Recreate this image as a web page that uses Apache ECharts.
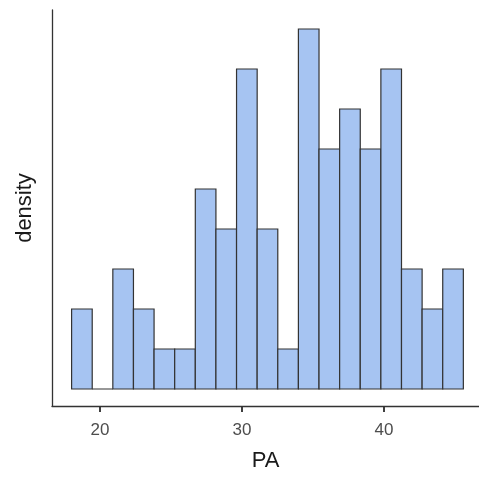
<!DOCTYPE html>
<html>
<head>
<meta charset="utf-8">
<script src="https://cdn.jsdelivr.net/npm/echarts@6/dist/echarts.min.js"></script>
<style>
  html, body { margin: 0; padding: 0; background: #fff; }
  #chart { width: 479px; height: 480px; }
</style>
</head>
<body>
<div id="chart"></div>
<script>
// histogram of PA: 19 bins, first edge and width
var binStart = 18.0;
var binWidth = 1.452;
var counts = [2, 0, 3, 2, 1, 1, 5, 4, 8, 4, 1, 9, 6, 7, 6, 8, 3, 2, 3];
var xTicks = [20, 30, 40];

var xMin = 16.62, xMax = 46.69;
var yMin = -0.425, yMax = 9.475;

var bins = counts.map(function (c, i) {
    var x0 = binStart + i * binWidth;
    return [x0, x0 + binWidth, c];
});

var chart = echarts.init(document.getElementById('chart'));

chart.setOption({
    animation: false,
    grid: { left: 52, right: 0, top: 10, bottom: 74 },
    xAxis: {
        type: 'value',
        min: xMin,
        max: xMax,
        name: 'PA',
        nameLocation: 'middle',
        nameGap: 44,
        nameTextStyle: { fontSize: 22, color: '#1a1a1a', fontFamily: 'Liberation Sans' },
        splitLine: { show: false },
        axisLine: { show: true, onZero: false, lineStyle: { color: '#333', width: 1.3 } },
        axisTick: {
            show: true,
            length: 6,
            lineStyle: { color: '#333', width: 1.5 },
            customValues: xTicks
        },
        axisLabel: {
            margin: 16,
            fontSize: 17,
            color: '#4d4d4d',
            fontFamily: 'Liberation Sans',
            customValues: xTicks
        }
    },
    yAxis: {
        type: 'value',
        min: yMin,
        max: yMax,
        name: 'density',
        nameLocation: 'middle',
        nameGap: 16,
        nameTextStyle: { fontSize: 22, color: '#1a1a1a', fontFamily: 'Liberation Sans' },
        splitLine: { show: false },
        axisLine: { show: true, onZero: false, lineStyle: { color: '#333', width: 1.3 } },
        axisTick: { show: false },
        axisLabel: { show: false }
    },
    series: [{
        type: 'custom',
        data: bins,
        encode: { x: [0, 1], y: 2 },
        renderItem: function (params, api) {
            var p0 = api.coord([api.value(0), 0]);
            var p1 = api.coord([api.value(1), api.value(2)]);
            return {
                type: 'rect',
                shape: { x: p0[0], y: p1[1], width: p1[0] - p0[0], height: p0[1] - p1[1] },
                style: { fill: '#a6c4f2', stroke: '#333', lineWidth: 1.2 }
            };
        }
    }]
});

// backup tick marks, placed through the axis scale and kept on top
var tickMarks = xTicks.map(function (v) {
    var p = chart.convertToPixel({ xAxisIndex: 0, yAxisIndex: 0 }, [v, yMin]);
    return {
        type: 'line',
        z: 100,
        silent: true,
        shape: { x1: p[0], y1: p[1], x2: p[0], y2: p[1] + 6 },
        style: { stroke: '#333', lineWidth: 1.5 }
    };
});
chart.setOption({ graphic: tickMarks });
</script>
</body>
</html>
